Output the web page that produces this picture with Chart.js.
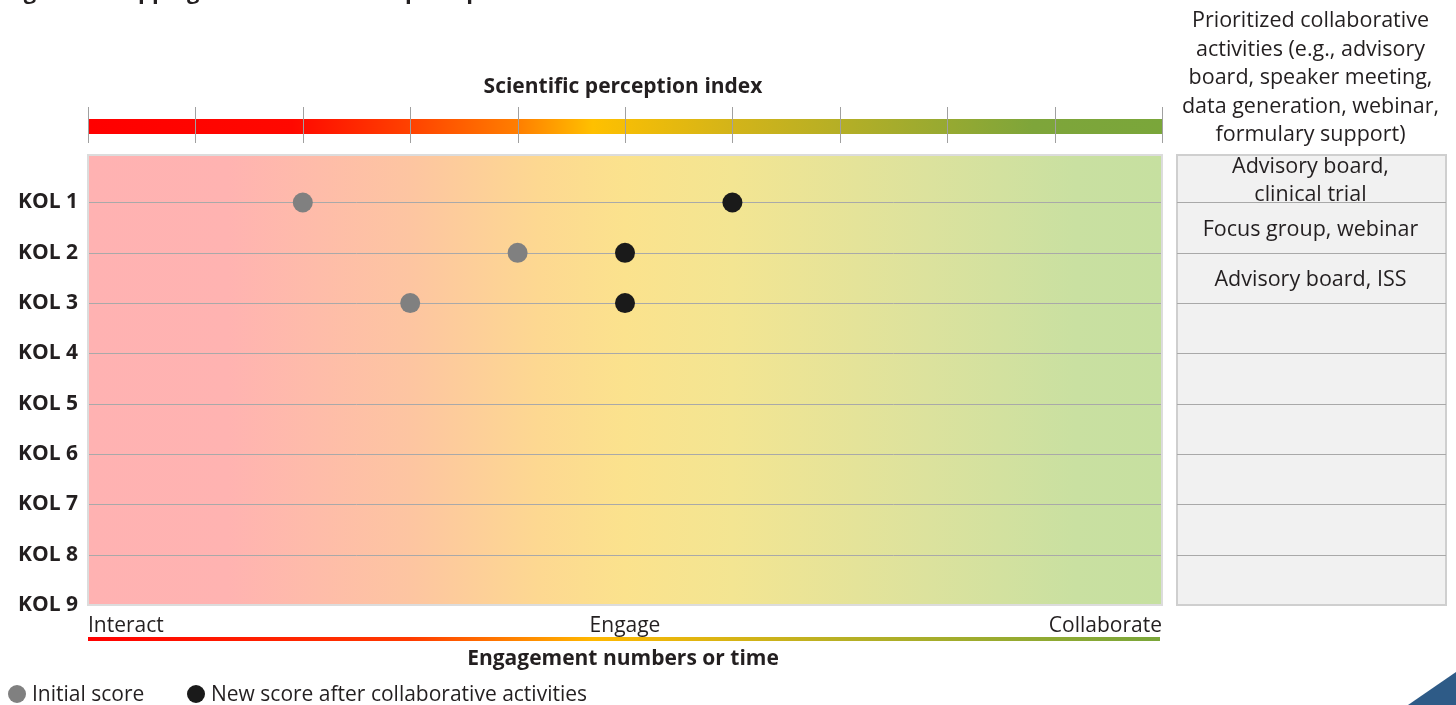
<!DOCTYPE html>
<html>
<head>
<meta charset="utf-8">
<title>KOL scientific perception</title>
<script src="https://cdn.jsdelivr.net/npm/chart.js@4.4.1/dist/chart.umd.min.js"></script>
<style>
  html, body { margin: 0; padding: 0; background: #ffffff; overflow: hidden; }
  #wrap { position: relative; width: 1456px; height: 705px; }
</style>
</head>
<body>
<div id="wrap"><canvas id="kolChart" width="1456" height="705"></canvas></div>
<script>
// --- data ---
const kolLabels = ['KOL 1', 'KOL 2', 'KOL 3', 'KOL 4', 'KOL 5', 'KOL 6', 'KOL 7', 'KOL 8', 'KOL 9'];
const initialScores = [2, 4, 3];      // scientific perception index, before
const newScores = [6, 5, 5];          // after collaborative activities
const stageTicks = [0, 5, 10];
const stageLabels = ['Interact', 'Engage', 'Collaborate'];
const indexTicks = [0, 1, 2, 3, 4, 5, 6, 7, 8, 9, 10];
const activities = [
    ['Advisory board,', 'clinical trial'],
    ['Focus group, webinar'],
    ['Advisory board, ISS'],
    [], [], [], [], [], []
];
const activityHeader = ['Prioritized collaborative', 'activities (e.g., advisory', 'board, speaker meeting,', 'data generation, webinar,', 'formulary support)'];
const seriesNames = ['Initial score', 'New score after collaborative activities'];
const seriesColors = ['#808080', '#1a1a1a'];

const FONT = "'Open Sans', 'DejaVu Sans', sans-serif";
const TEXT = '#231f20';

function toPoints(scores) {
    return scores.map((v, i) => ({ x: v, y: i + 1 }));
}

// backgrounds, bars, table, legend
const decorations = {
    id: 'decorations',
    beforeDatasetsDraw(chart) {
        const ctx = chart.ctx;
        const area = chart.chartArea;
        ctx.save();
        // plot background
        const bg = ctx.createLinearGradient(area.left, 0, area.right, 0);
        bg.addColorStop(0, '#ffb2b2');
        bg.addColorStop(0.13, '#ffb3b1');
        bg.addColorStop(0.3, '#fdc5a1');
        bg.addColorStop(0.42, '#fdd891');
        bg.addColorStop(0.5, '#fbe28d');
        bg.addColorStop(0.6, '#f3e592');
        bg.addColorStop(0.78, '#dce29d');
        bg.addColorStop(0.92, '#c9e0a1');
        bg.addColorStop(1, '#c6e0a0');
        ctx.fillStyle = bg;
        ctx.fillRect(area.left, area.top, area.right - area.left, area.bottom - area.top);
        ctx.restore();
        // horizontal grid over the background
        const y = chart.scales.y;
        ctx.save();
        ctx.strokeStyle = '#a9a9a9';
        ctx.lineWidth = 1;
        for (let i = 1; i < kolLabels.length; i++) {
            const py = Math.round(y.getPixelForValue(i)) + 0.5;
            ctx.beginPath();
            ctx.moveTo(area.left, py);
            ctx.lineTo(area.right, py);
            ctx.stroke();
        }
        ctx.strokeStyle = '#dcdcdc';
        ctx.lineWidth = 2;
        ctx.strokeRect(area.left, area.top, area.right - area.left, area.bottom - area.top);
        ctx.restore();
    },
    afterDraw(chart) {
        const ctx = chart.ctx;
        const area = chart.chartArea;
        const x = chart.scales.x;
        const y = chart.scales.y;
        const mid = (area.left + area.right) / 2;
        ctx.save();

        // figure title (cut off by the page top)
        ctx.fillStyle = TEXT;
        ctx.font = "bold 22px " + FONT;
        ctx.textAlign = 'left';
        ctx.textBaseline = 'alphabetic';
        ctx.fillText('Figure 1: Mapping KOLs on scientific perception', 5, -1);

        // top index bar
        ctx.font = "bold 21px " + FONT;
        ctx.textAlign = 'center';
        ctx.textBaseline = 'middle';
        ctx.fillText('Scientific perception index', mid - 2, 87);
        const top = ctx.createLinearGradient(area.left, 0, area.right, 0);
        top.addColorStop(0, '#ff0000');
        top.addColorStop(0.19, '#ff0800');
        top.addColorStop(0.3, '#ff4200');
        top.addColorStop(0.4, '#ff7e00');
        top.addColorStop(0.47, '#ffc000');
        top.addColorStop(0.6, '#d3b419');
        top.addColorStop(0.75, '#a6ac2c');
        top.addColorStop(0.88, '#7ea53a');
        top.addColorStop(1, '#7aa63a');
        ctx.fillStyle = top;
        ctx.fillRect(area.left, 119, area.right - area.left, 15);
        ctx.strokeStyle = '#a0a0a0';
        ctx.lineWidth = 1;
        indexTicks.forEach(v => {
            const px = Math.round(x.getPixelForValue(v)) + 0.5;
            ctx.beginPath();
            ctx.moveTo(px, 107);
            ctx.lineTo(px, 143);
            ctx.stroke();
        });

        // bottom engagement line + title
        const bot = ctx.createLinearGradient(area.left, 0, area.right, 0);
        bot.addColorStop(0, '#ff0000');
        bot.addColorStop(0.3, '#ff3a00');
        bot.addColorStop(0.47, '#ffb800');
        bot.addColorStop(0.7, '#b8b024');
        bot.addColorStop(1, '#7aa63a');
        ctx.fillStyle = bot;
        ctx.fillRect(area.left, 637, area.right - area.left - 2, 4);
        ctx.fillStyle = TEXT;
        ctx.font = "bold 21px " + FONT;
        ctx.fillText('Engagement numbers or time', mid - 2, 659);

        // activities table
        const tl = 1177, tr = 1446;
        const tcx = (tl + tr) / 2;
        ctx.fillStyle = '#f1f1f1';
        ctx.fillRect(tl, area.top, tr - tl, area.bottom - area.top);
        ctx.strokeStyle = '#cfcfcf';
        ctx.lineWidth = 2;
        ctx.strokeRect(tl, area.top, tr - tl, area.bottom - area.top);
        ctx.strokeStyle = '#a9a9a9';
        ctx.lineWidth = 1;
        for (let i = 1; i < kolLabels.length; i++) {
            const py = Math.round(y.getPixelForValue(i)) + 0.5;
            ctx.beginPath();
            ctx.moveTo(tl, py);
            ctx.lineTo(tr, py);
            ctx.stroke();
        }
        ctx.fillStyle = TEXT;
        ctx.font = "21.5px " + FONT;
        activityHeader.forEach((line, i) => {
            ctx.fillText(line, tcx - 1, 21 + i * 28.5);
        });
        activities.forEach((lines, i) => {
            const y0 = i === 0 ? area.top : y.getPixelForValue(i);
            const y1 = y.getPixelForValue(i + 1);
            const ym = (y0 + y1) / 2;
            lines.forEach((line, j) => {
                ctx.fillText(line, tcx - 1, ym + (j - (lines.length - 1) / 2) * 28 + 2);
            });
        });

        // legend
        ctx.textAlign = 'left';
        ctx.font = "21px " + FONT;
        const legendX = [17, 196];
        chart.data.datasets.forEach((ds, i) => {
            ctx.fillStyle = ds.backgroundColor;
            ctx.beginPath();
            ctx.arc(legendX[i], 694, 9, 0, Math.PI * 2);
            ctx.fill();
            ctx.fillStyle = TEXT;
            ctx.fillText(ds.label, legendX[i] + 15, 695);
        });

        // corner mark
        ctx.fillStyle = '#2e5b87';
        ctx.beginPath();
        ctx.moveTo(1408, 705);
        ctx.lineTo(1456, 672);
        ctx.lineTo(1456, 705);
        ctx.closePath();
        ctx.fill();
        ctx.restore();
    }
};

const chart = new Chart(document.getElementById('kolChart'), {
    type: 'scatter',
    data: {
        datasets: [
            {
                label: seriesNames[0],
                data: toPoints(initialScores),
                backgroundColor: seriesColors[0],
                borderColor: seriesColors[0],
                pointRadius: 10,
                pointHoverRadius: 10,
                borderWidth: 0,
                order: 2
            },
            {
                label: seriesNames[1],
                data: toPoints(newScores),
                backgroundColor: seriesColors[1],
                borderColor: seriesColors[1],
                pointRadius: 10,
                pointHoverRadius: 10,
                borderWidth: 0,
                order: 1
            }
        ]
    },
    options: {
        responsive: false,
        animation: false,
        layout: { padding: { top: 155, right: 294, bottom: 0, left: 0 } },
        plugins: {
            legend: { display: false },
            tooltip: { enabled: false }
        },
        scales: {
            x: {
                type: 'linear',
                min: 0,
                max: 10,
                border: { display: false },
                grid: { display: false, drawTicks: false },
                afterBuildTicks: s => { s.ticks = stageTicks.map(v => ({ value: v })); },
                afterFit: s => { s.height = 100; },
                ticks: {
                    autoSkip: false,
                    maxRotation: 0,
                    align: 'inner',
                    padding: 8,
                    color: TEXT,
                    font: { family: FONT, size: 21 },
                    callback: v => stageLabels[stageTicks.indexOf(v)]
                }
            },
            y: {
                type: 'linear',
                reverse: true,
                min: 0.056,
                max: 9,
                border: { display: false },
                grid: { display: false, drawTicks: false },
                afterBuildTicks: s => { s.ticks = kolLabels.map((_, i) => ({ value: i + 1 })); },
                afterFit: s => { s.width = 88; },
                ticks: {
                    autoSkip: false,
                    padding: 10,
                    color: TEXT,
                    font: { family: FONT, size: 21, weight: 'bold' },
                    callback: v => kolLabels[v - 1]
                }
            }
        }
    },
    plugins: [decorations]
});
</script>
</body>
</html>
